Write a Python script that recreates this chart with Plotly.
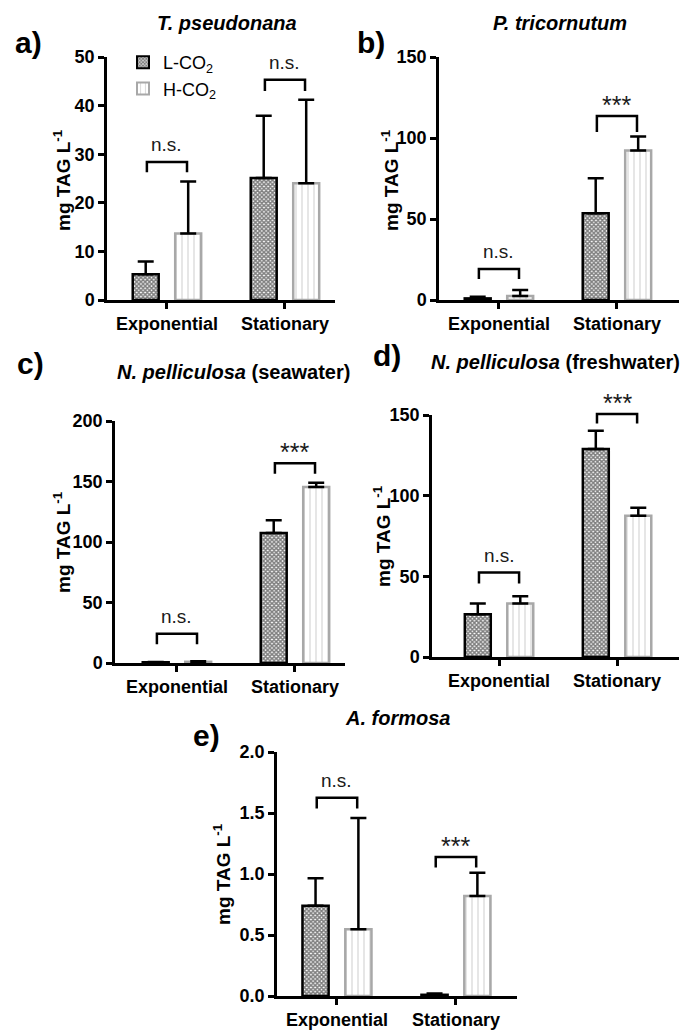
import plotly.graph_objects as go

# ---------------- data ----------------
categories = ["Exponential", "Stationary"]
series_names = ["L-CO<sub>2</sub>", "H-CO<sub>2</sub>"]

panel_letters = ["a)", "b)", "c)", "d)", "e)"]
panel_titles = [
    "<b><i>T. pseudonana</i></b>",
    "<b><i>P. tricornutum</i></b>",
    "<b><i>N. pelliculosa</i> (seawater)</b>",
    "<b><i>N. pelliculosa</i> (freshwater)</b>",
    "<b><i>A. formosa</i></b>",
]

# means and upper SD (only upper whisker drawn)
L_mean_a = [5.3, 25.1];   L_err_a = [2.6, 12.8]
H_mean_a = [13.7, 24.0];  H_err_a = [10.7, 17.2]
L_mean_b = [1.0, 53.6];   L_err_b = [1.0, 21.6]
H_mean_b = [2.5, 92.3];   H_err_b = [3.7, 8.7]
L_mean_c = [0.6, 107.4];  L_err_c = [0.3, 10.5]
H_mean_c = [1.0, 145.5];  H_err_c = [0.5, 3.5]
L_mean_d = [26.5, 128.9]; L_err_d = [6.6, 11.4]
H_mean_d = [33.1, 87.5];  H_err_d = [4.6, 5.0]
L_mean_e = [0.74, 0.01];  L_err_e = [0.225, 0.01]
H_mean_e = [0.548, 0.819]; H_err_e = [0.912, 0.191]

# significance labels and bracket heights (top, leg end) per category
sig_a = ["n.s.", "n.s."];   br_top_a = [28.4, 45.3];   br_leg_a = [26.3, 43.0]
sig_b = ["n.s.", "***"];    br_top_b = [19.1, 113.6];  br_leg_b = [13.0, 103.7]
sig_c = ["n.s.", "***"];    br_top_c = [24.2, 165.0];  br_leg_c = [15.4, 156.5]
sig_d = ["n.s.", "***"];    br_top_d = [52.3, 150.6];  br_leg_d = [45.5, 144.8]
sig_e = ["n.s.", "***"];    br_top_e = [1.626, 1.14];  br_leg_e = [1.536, 1.053]

y_ticks_a = [0, 10, 20, 30, 40, 50]
y_ticks_b = [0, 50, 100, 150]
y_ticks_c = [0, 50, 100, 150, 200]
y_ticks_d = [0, 50, 100, 150]
y_ticks_e = [0.0, 0.5, 1.0, 1.5, 2.0]

# ---------------- layout helpers ----------------
W, H = 694, 1036
def fx(p): return p / W
def fy(p): return 1 - p / H

panels = [
    dict(L=L_mean_a, Le=L_err_a, H=H_mean_a, He=H_err_a, sig=sig_a, bt=br_top_a, bl=br_leg_a,
         ticks=y_ticks_a, fmt="d", xd=(107, 335), yd=(57, 300), xr=(-0.508, 1.424),
         letter=(28, 43), title=(227, 23), ytitle=(62, 180)),
    dict(L=L_mean_b, Le=L_err_b, H=H_mean_b, He=H_err_b, sig=sig_b, bt=br_top_b, bl=br_leg_b,
         ticks=y_ticks_b, fmt="d", xd=(439, 679), yd=(57, 300), xr=(-0.508, 1.526),
         letter=(371, 43), title=(560, 23), ytitle=(390, 180)),
    dict(L=L_mean_c, Le=L_err_c, H=H_mean_c, He=H_err_c, sig=sig_c, bt=br_top_c, bl=br_leg_c,
         ticks=y_ticks_c, fmt="d", xd=(115, 345), yd=(421, 663), xr=(-0.525, 1.424),
         letter=(30, 363), title=(234, 372), ytitle=(62, 542)),
    dict(L=L_mean_d, Le=L_err_d, H=H_mean_d, He=H_err_d, sig=sig_d, bt=br_top_d, bl=br_leg_d,
         ticks=y_ticks_d, fmt="d", xd=(432, 679), yd=(415, 657), xr=(-0.568, 1.525),
         letter=(387, 355), title=(555, 362), ytitle=(382, 536)),
    dict(L=L_mean_e, Le=L_err_e, H=H_mean_e, He=H_err_e, sig=sig_e, bt=br_top_e, bl=br_leg_e,
         ticks=y_ticks_e, fmt=".1f", xd=(277, 517), yd=(752, 996), xr=(-0.504, 1.513),
         letter=(206, 735), title=(397, 718), ytitle=(222, 874)),
]

FONT = "Liberation Sans, Arial, sans-serif"
BW, OFF = 0.22, 0.18
BR = 0.17

fig = go.Figure()
annotations = []
shapes = []
layout_axes = {}

for i, p in enumerate(panels):
    n = i + 1
    xa = "x" if n == 1 else f"x{n}"
    ya = "y" if n == 1 else f"y{n}"
    xs = list(range(len(categories)))
    x0, x1 = p["xr"]
    y0, y1 = p["ticks"][0], p["ticks"][-1]
    def dx(v): return (v - x0) / (x1 - x0)
    def dy(v): return (v - y0) / (y1 - y0)

    fig.add_trace(go.Bar(
        x=xs, y=p["L"], width=BW, offset=-OFF - BW / 2, xaxis=xa, yaxis=ya,
        name=series_names[0], legendgroup="L", showlegend=(n == 1),
        marker=dict(color="white",
                    pattern=dict(shape="x", fgcolor="#000000", bgcolor="#ffffff", size=3, solidity=0.75),
                    line=dict(color="#000000", width=2.5)),
        error_y=dict(type="data", array=p["Le"], arrayminus=[0] * len(xs), symmetric=False,
                     color="#000000", thickness=2.5, width=8),
        cliponaxis=False,
    ))
    fig.add_trace(go.Bar(
        x=xs, y=p["H"], width=BW, offset=OFF - BW / 2, xaxis=xa, yaxis=ya,
        name=series_names[1], legendgroup="H", showlegend=(n == 1),
        marker=dict(color="white",
                    pattern=dict(shape="|", fgcolor="#b3b3b3", bgcolor="#ffffff", size=6, solidity=0.22),
                    line=dict(color="#a8a8a8", width=2.5)),
        error_y=dict(type="data", array=p["He"], arrayminus=[0] * len(xs), symmetric=False,
                     color="#000000", thickness=2.5, width=8),
        cliponaxis=False,
    ))
    # significance brackets (drawn in axis-domain units so they are not clipped)
    for c in xs:
        xl, xr_ = dx(c - BR), dx(c + BR)
        yt, yl = dy(p["bt"][c]), dy(p["bl"][c])
        shapes.append(dict(
            type="path", xref=f"{xa} domain", yref=f"{ya} domain",
            path=f"M {xl},{yl} L {xl},{yt} L {xr_},{yt} L {xr_},{yl}",
            line=dict(color="#000000", width=2.5), layer="above"))
        stars = p["sig"][c].startswith("*")
        annotations.append(dict(
            x=dx(c), y=yt, xref=f"{xa} domain", yref=f"{ya} domain", text=p["sig"][c],
            showarrow=False, xanchor="center", yanchor="bottom",
            yshift=-5 if stars else 5,
            font=dict(family=FONT, size=25 if stars else 19, color="#1a1a1a"),
        ))

    axis_common = dict(showline=True, linecolor="#000000", linewidth=2.5, showgrid=False,
                       zeroline=False, ticks="outside", ticklen=6, tickwidth=2.5,
                       tickcolor="#000000", automargin=False,
                       tickfont=dict(family=FONT, size=18, color="#000000", weight="bold"))
    layout_axes["xaxis" if n == 1 else f"xaxis{n}"] = dict(
        axis_common, domain=[fx(p["xd"][0]), fx(p["xd"][1])], range=list(p["xr"]),
        tickmode="array", tickvals=xs, ticktext=categories,
        anchor=ya, fixedrange=True)
    layout_axes["yaxis" if n == 1 else f"yaxis{n}"] = dict(
        axis_common, domain=[fy(p["yd"][1]), fy(p["yd"][0])],
        range=[y0, y1], tickmode="array", tickvals=p["ticks"],
        tickformat=p["fmt"], anchor=xa, fixedrange=True)

    annotations.append(dict(x=fx(p["letter"][0]), y=fy(p["letter"][1]), xref="paper", yref="paper",
                            text=f"<b>{panel_letters[i]}</b>", showarrow=False,
                            xanchor="center", yanchor="middle",
                            font=dict(family=FONT, size=30, color="#000000")))
    annotations.append(dict(x=fx(p["title"][0]), y=fy(p["title"][1]), xref="paper", yref="paper",
                            text=panel_titles[i], showarrow=False,
                            xanchor="center", yanchor="middle",
                            font=dict(family=FONT, size=20, color="#000000")))
    annotations.append(dict(x=fx(p["ytitle"][0]), y=fy(p["ytitle"][1]), xref="paper", yref="paper",
                            text="<b>mg TAG L<sup>-1</sup></b>", showarrow=False, textangle=-90,
                            xanchor="center", yanchor="middle",
                            font=dict(family=FONT, size=19, color="#000000")))

fig.update_layout(
    width=W, height=H, margin=dict(l=0, r=0, t=0, b=0, autoexpand=False),
    paper_bgcolor="white", plot_bgcolor="white",
    barmode="overlay",
    showlegend=True,
    legend=dict(x=fx(123), y=fy(44), xanchor="left", yanchor="top",
                bgcolor="rgba(0,0,0,0)", font=dict(family=FONT, size=18, color="#000000"),
                itemsizing="constant", tracegroupgap=0),
    annotations=annotations,
    shapes=shapes,
    **layout_axes,
)

fig.write_html("out.html", config={"displayModeBar": False},
               post_script="document.body.style.margin='0';document.body.style.padding='0';")
